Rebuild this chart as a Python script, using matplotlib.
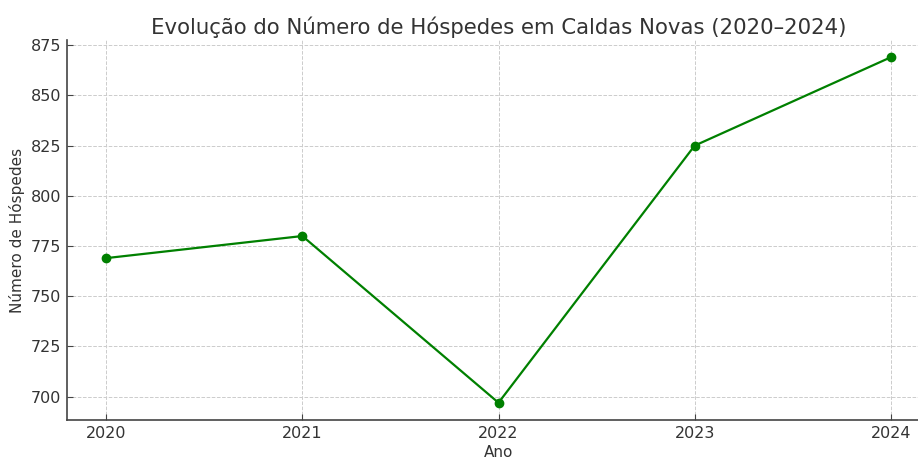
import matplotlib
matplotlib.use("Agg")
import matplotlib.pyplot as plt

anos = [2020, 2021, 2022, 2023, 2024]
hospedes = [769, 780, 697, 825, 869]
yticks = [700, 725, 750, 775, 800, 825, 850, 875]

plt.rcParams['font.family'] = ['DejaVu Sans']
txt = '#333333'
fig = plt.figure(figsize=(9.18, 4.58), dpi=100)
ax = fig.add_axes([67/918, 38/458, 863/918, 380/458])
ax.plot(anos, hospedes, color='green', marker='o', markersize=6, linewidth=1.6)
ax.set_xticks(anos)
ax.set_yticks(yticks)
ax.grid(True, linestyle='--', color='#cccccc', linewidth=0.7)
ax.set_axisbelow(True)
for s in ['top', 'right']:
    ax.spines[s].set_visible(False)
for s in ['left', 'bottom']:
    ax.spines[s].set_color('#444444')
    ax.spines[s].set_linewidth(1.2)
ax.tick_params(direction='in', colors='#444444', labelcolor=txt, labelsize=11.5, length=4, pad=4)
ax.set_title('Evolução do Número de Hóspedes em Caldas Novas (2020–2024)', fontsize=15.3, color=txt, pad=4)
ax.set_xlabel('Ano', fontsize=11, color=txt, labelpad=3)
ax.set_ylabel('Número de Hóspedes', fontsize=11, color=txt, labelpad=4)
fig.savefig('out.png', dpi=100)
